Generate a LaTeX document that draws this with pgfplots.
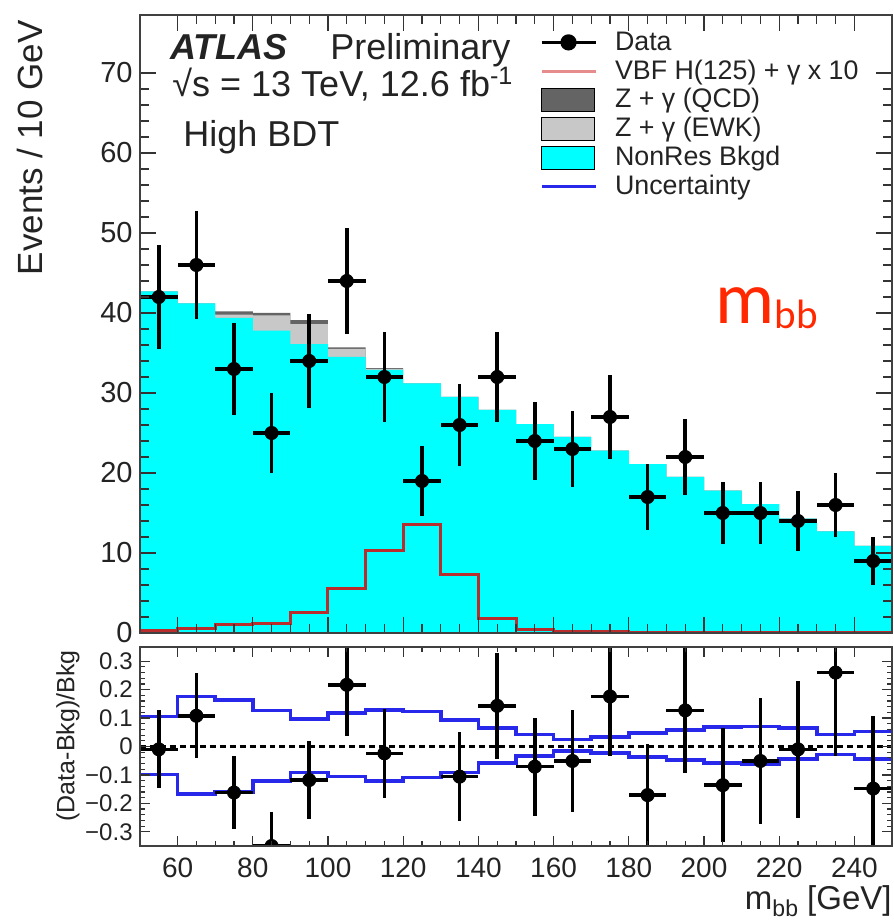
\documentclass[border=0pt]{standalone}
\usepackage{pgfplots}
\pgfplotsset{compat=1.18}
\usepackage{pgfplotstable}
\usepackage{fontspec}
\setmainfont{Liberation Sans}
\newfontfamily\carlito{Carlito}
\definecolor{cyanH}{RGB}{0,255,255}
\definecolor{ewk}{RGB}{200,200,200}
\definecolor{qcd}{RGB}{100,100,100}
\definecolor{sig}{RGB}{185,45,45}
\definecolor{sigleg}{RGB}{230,140,140}
\definecolor{unc}{RGB}{40,40,235}
\definecolor{mbbred}{RGB}{255,40,0}
\definecolor{txt}{RGB}{35,35,35}

\pgfplotstableread{
x nonres mid tot sig
50 42.7 42.7 42.7 0.25
60 41.2 41.2 41.2 0.6
70 39.4 39.8 40.2 1.1
80 37.8 39.7 40.0 1.2
90 36.1 38.6 39.1 2.5
100 34.5 35.5 35.7 5.6
110 32.9 33.0 33.1 10.25
120 31.2 31.2 31.2 13.6
130 29.5 29.5 29.5 7.25
140 27.9 27.9 27.9 1.8
150 26.1 26.1 26.1 0.4
160 24.5 24.5 24.5 0.2
170 22.8 22.8 22.8 0.15
180 21.1 21.1 21.1 0.1
190 19.5 19.5 19.5 0.1
200 17.8 17.8 17.8 0.1
210 16.1 16.1 16.1 0.1
220 14.3 14.3 14.3 0.1
230 12.7 12.7 12.7 0.1
240 10.9 10.9 10.9 0.1
250 10.9 10.9 10.9 0.1
}\stacktab

\pgfplotstableread{
x y ey
55 42 6.48
65 46 6.78
75 33 5.74
85 25 5.00
95 34 5.83
105 44 6.63
115 32 5.66
125 19 4.36
135 26 5.10
145 32 5.66
155 24 4.90
165 23 4.80
175 27 5.20
185 17 4.12
195 22 4.69
205 15 3.87
215 15 3.87
225 14 3.74
235 16 4.00
245 9 3.00
}\datatab

\pgfplotstableread{
x r er
55 -0.010 0.137
65 0.108 0.149
75 -0.162 0.129
85 -0.350 0.120
95 -0.118 0.137
105 0.217 0.180
115 -0.024 0.156
135 -0.106 0.157
145 0.143 0.187
155 -0.071 0.172
165 -0.051 0.179
175 0.176 0.210
185 -0.171 0.180
195 0.127 0.219
205 -0.136 0.201
215 -0.051 0.223
225 -0.010 0.242
235 0.260 0.294
245 -0.148 0.254
}\ratiotab

\pgfplotstableread{
x up dn
50 0.106 -0.098
60 0.176 -0.168
70 0.164 -0.160
80 0.127 -0.121
90 0.097 -0.092
100 0.118 -0.106
110 0.129 -0.121
120 0.123 -0.109
130 0.094 -0.092
140 0.065 -0.057
150 0.042 -0.034
160 0.024 -0.016
170 0.034 -0.022
180 0.048 -0.036
190 0.059 -0.048
200 0.069 -0.059
210 0.071 -0.063
220 0.065 -0.045
230 0.042 -0.028
240 0.053 -0.043
250 0.053 -0.043
}\bandtab

\pgfplotsset{
  legline/.style={legend image code/.code={\draw[mark repeat=2,mark phase=2] plot coordinates {(0bp,0bp) (13.5bp,0bp) (27bp,0bp)};}},
  legbox/.style={legend image code/.code={\path[fill] (0bp,-5.8bp) rectangle (26.5bp,5.8bp);}},
  common/.style={
    scale only axis, width=376bp,
    xmin=50, xmax=250,
    clip mode=individual,
    tick align=inside, tick pos=both, ticklabel pos=left,
    axis on top, clip marker paths=true,
    axis line style={line width=0.8bp, black!75},
    tick style={black!80, line width=0.6bp},
    /pgf/number format/assume math mode=true,
    xtick={60,80,...,240}, minor x tick num=3,
  },
  dataerr/.style={black, only marks, mark=*, mark size=3.3bp,
    error bars/.cd, x dir=both, x fixed=5, y dir=both, y explicit,
    error bar style={line width=1.8bp, black}, error mark=none},
}

\begin{document}
\begin{tikzpicture}
\path[use as bounding box] (-70bp,-37.5bp) rectangle (377bp,423bp);
% ---------------- ratio panel
\begin{axis}[common,
  at={(0bp,0bp)}, anchor=south west, height=99.5bp,
  ymin=-0.35, ymax=0.35,
  ytick={-0.3,-0.2,-0.1,0,0.1,0.2,0.3},
  yticklabels={−0.3,−0.2,−0.1,0,0.1,0.2,0.3},
  minor y tick num=4,
  major tick length=5bp, minor tick length=2.5bp,
  xticklabel style={font=\fontsize{14bp}{16bp}\selectfont, text=txt, inner sep=0pt, yshift=-6bp},
  yticklabel style={font=\fontsize{12bp}{13bp}\selectfont, text=txt, inner sep=0pt, xshift=-3.5bp},
]
\addplot[forget plot, black, densely dashed, line width=1.2bp] coordinates {(50,0) (250,0)};
\addplot[forget plot, const plot, unc, line width=1.8bp] table[x=x, y=up] {\bandtab};
\addplot[forget plot, const plot, unc, line width=1.8bp] table[x=x, y=dn] {\bandtab};
\addplot[forget plot, dataerr] table[x=x, y=r, y error=er] {\ratiotab};
\node[anchor=base east, inner sep=0pt, text=txt, font=\fontsize{16.5bp}{18bp}\selectfont]
  at ([yshift=-31.5bp]rel axis cs:1,0) {m\raisebox{-3.5bp}{\fontsize{11.5bp}{13bp}\selectfont bb} [GeV]};
\node[rotate=90, anchor=center, inner sep=0pt, text=txt, font=\fontsize{12.5bp}{14bp}\selectfont]
  at ([xshift=-36bp]rel axis cs:0,0.553) {(Data-Bkg)/Bkg};
\end{axis}
% ---------------- main panel
\begin{axis}[common,
  at={(0bp,106.5bp)}, anchor=south west, height=309bp,
  ymin=0, ymax=77.25,
  ytick={0,10,...,70}, minor y tick num=4,
  xticklabels={},
  major tick length=8bp, minor tick length=4.5bp,
  yticklabel style={font=\fontsize{14.5bp}{16bp}\selectfont, text=txt, inner sep=0pt, xshift=-3.5bp},
  legend cell align=left,
  legend style={at={(rel axis cs:0,1)}, anchor=north west, xshift=200bp, yshift=-6.5bp,
    draw=none, fill=none, inner sep=0pt, outer sep=0pt, row sep=0pt,
    font=\fontsize{13.4bp}{14.4bp}\selectfont, text=txt,
    nodes={inner sep=0pt, text height=11.2bp, text depth=3.2bp},
    /tikz/every odd column/.style={column sep=9bp}},
]
\addplot[forget plot, const plot, fill=qcd, draw=none] table[x=x, y=tot] {\stacktab} \closedcycle;
\addplot[forget plot, const plot, fill=ewk, draw=none] table[x=x, y=mid] {\stacktab} \closedcycle;
\addplot[forget plot, const plot, fill=cyanH, draw=none] table[x=x, y=nonres] {\stacktab} \closedcycle;
\addplot[forget plot, const plot, sig, line width=1.5bp] table[x=x, y=sig] {\stacktab};
\addplot[forget plot, dataerr] table[x=x, y=y, y error=ey] {\datatab};

\addlegendimage{legline, black, line width=1.5bp, mark=*, mark size=3.3bp}
\addlegendentry{Data}
\addlegendimage{legline, sigleg, line width=1.5bp}
\addlegendentry{VBF H(125) + γ x 10}
\addlegendimage{legbox, fill=qcd}
\addlegendentry{Z + γ (QCD)}
\addlegendimage{legbox, fill=ewk}
\addlegendentry{Z + γ (EWK)}
\addlegendimage{legbox, fill=cyanH}
\addlegendentry{NonRes Bkgd}
\addlegendimage{legline, unc, line width=1.5bp}
\addlegendentry{Uncertainty}

\node[anchor=base west, inner sep=0pt, text=txt, font=\fontsize{18bp}{18bp}\selectfont]
  at ([xshift=15bp, yshift=-22.5bp]rel axis cs:0,1) {\textbf{\textit{ATLAS}}};
\node[anchor=base west, inner sep=0pt, text=txt, font=\fontsize{18bp}{18bp}\selectfont]
  at ([xshift=95bp, yshift=-22.5bp]rel axis cs:0,1) {Preliminary};
\node[anchor=base west, inner sep=0pt, text=txt, font=\fontsize{18bp}{18bp}\selectfont]
  at ([xshift=16bp, yshift=-41bp]rel axis cs:0,1) {√s = 13 TeV, 12.6 fb\textsuperscript{-1}};
\node[anchor=base west, inner sep=0pt, text=txt, font=\fontsize{18bp}{18bp}\selectfont]
  at ([xshift=21.5bp, yshift=-66bp]rel axis cs:0,1) {High BDT};
\node[rotate=90, anchor=east, inner sep=0pt, text=txt, font=\fontsize{17.5bp}{18bp}\selectfont]
  at ([xshift=-55bp, yshift=-2.5bp]rel axis cs:0,1) {Events / 10 GeV};
\node[anchor=base west, inner sep=0pt, text=mbbred]
  at (axis cs:203,38.7) {\carlito\fontsize{37bp}{38bp}\selectfont m\raisebox{-2.5bp}{\fontsize{20.5bp}{21bp}\selectfont bb}};
\end{axis}
\end{tikzpicture}
\end{document}
